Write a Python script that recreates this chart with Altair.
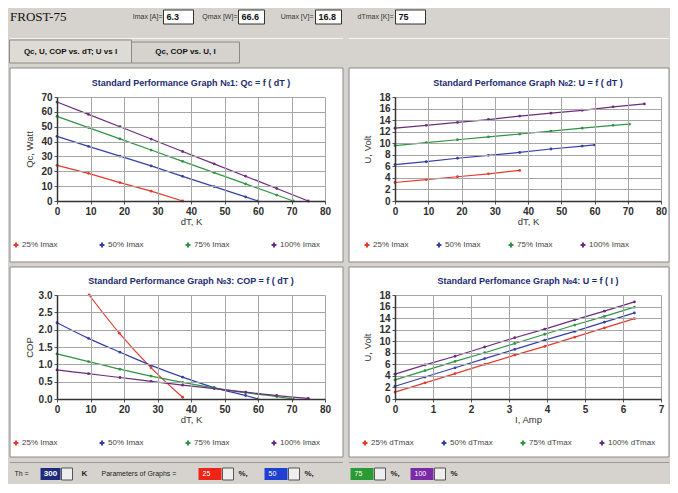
import altair as alt
import pandas as pd

# ---------------- data ----------------
series_imax = ["25% Imax", "50% Imax", "75% Imax", "100% Imax"]
series_dtmax = ["25% dTmax", "50% dTmax", "75% dTmax", "100% dTmax"]
series_colors = ["#e53a2c", "#3441a8", "#2f9444", "#6b2d7d"]

x_ticks_dT = [0, 10, 20, 30, 40, 50, 60, 70, 80]
x_ticks_I = [0, 1, 2, 3, 4, 5, 6, 7]
y_ticks_Qc = [0, 10, 20, 30, 40, 50, 60, 70]
y_ticks_U = [0, 2, 4, 6, 8, 10, 12, 14, 16, 18]
y_ticks_COP = [0.0, 0.5, 1.0, 1.5, 2.0, 2.5, 3.0]

dT_25 = [0, 9.4, 18.8, 28.1, 37.5]
dT_50 = [0, 9.4, 18.8, 28.1, 37.5, 46.9, 56.3, 60.0]
dT_75 = [0, 9.4, 18.8, 28.1, 37.5, 46.9, 56.3, 65.6, 70.5]
dT_100 = [0, 9.4, 18.8, 28.1, 37.5, 46.9, 56.3, 65.6, 75.0]

Qc_25 = [24.0, 18.6, 12.4, 6.6, 0.0]
Qc_50 = [43.5, 36.8, 30.2, 23.6, 16.6, 9.7, 2.8, 0.0]
Qc_75 = [57.0, 49.4, 41.8, 34.3, 26.7, 19.1, 11.5, 4.0, 0.0]
Qc_100 = [66.6, 58.3, 50.0, 41.7, 33.3, 25.0, 16.7, 8.4, 0.0]

U_25 = [3.2, 3.7, 4.2, 4.7, 5.3]
U_50 = [6.3, 6.8, 7.4, 7.9, 8.4, 9.0, 9.5, 9.7]
U_75 = [9.6, 10.1, 10.6, 11.1, 11.6, 12.1, 12.6, 13.1, 13.3]
U_100 = [12.6, 13.1, 13.6, 14.1, 14.7, 15.2, 15.7, 16.3, 16.8]

dT_cop_25 = [9.6, 18.6, 28.1, 37.5]
COP_25 = [3.0, 1.9, 0.9, 0.05]
COP_50 = [2.2, 1.75, 1.35, 0.97, 0.63, 0.33, 0.10, 0.0]
COP_75 = [1.3, 1.08, 0.86, 0.66, 0.48, 0.32, 0.18, 0.07, 0.0]
COP_100 = [0.84, 0.73, 0.62, 0.51, 0.40, 0.30, 0.20, 0.10, 0.02]

I_amp = [0, 0.79, 1.58, 2.36, 3.15, 3.94, 4.73, 5.51, 6.3]
UI_25 = [1.2, 2.8, 4.4, 6.0, 7.6, 9.1, 10.7, 12.3, 13.9]
UI_50 = [2.2, 3.8, 5.4, 7.0, 8.6, 10.2, 11.7, 13.3, 14.9]
UI_75 = [3.3, 4.9, 6.5, 8.0, 9.6, 11.2, 12.8, 14.3, 15.9]
UI_100 = [4.3, 5.9, 7.4, 9.0, 10.6, 12.1, 13.7, 15.2, 16.8]

panel_titles = [
    "Standard Performance Graph \u21161: Qc = f ( dT )",
    "Standard Perfomance Graph \u21162: U = f ( dT )",
    "Standard Performance Graph \u21163: COP = f ( dT )",
    "Standard Perfomance Graph \u21164: U = f ( I )",
]
app_title = "FROST-75"
header_labels = ["Imax [A]=", "Qmax [W]=", "Umax [V]=", "dTmax [K]="]
header_values = ["6.3", "66.6", "16.8", "75"]
tab_labels = ["Qc, U, COP vs. dT; U vs I", "Qc,  COP  vs.  U,  I"]
footer_th = ["Th =", "300", "K", "Parameters of Graphs ="]
footer_values = ["25", "50", "75", "100"]
footer_colors = ["#ee2418", "#1e3fcf", "#2a9a34", "#7b2aa6"]

# ---------------- styling / layout constants ----------------
GREY = "#d6d3ce"
FONT = "Liberation Sans"
ONE = pd.DataFrame({"k": [0]})

# panel geometry: plot width, height, white margins left/right/top/bottom
W_L, W_R, H = 268, 266, 104
L_L, R_L, L_R, R_R = 47, 18, 46, 8
T1, B1, T2, B2 = 29, 61, 28, 58
COLSP, ROWSP = 4, 3
X0 = L_L + 0.5                                   # column-0 plot origin
X1 = (L_L + W_L + R_L + 1) + COLSP + L_R + 0.5   # column-1 plot origin


def long_df(xs_list, ys_list, names):
    rows = []
    for xs, ys, n in zip(xs_list, ys_list, names):
        for a, b in zip(xs, ys):
            rows.append({"x": a, "y": b, "s": n})
    return pd.DataFrame(rows)


def rect(x1, x2, y1, y2, **kw):
    return alt.Chart(ONE).mark_rect(**kw).encode(
        x=alt.value(x1), x2=alt.value(x2), y=alt.value(y1), y2=alt.value(y2)
    )


def text(s, x, y, size=8, weight="normal", color="#222", align="left", font=FONT):
    return alt.Chart(pd.DataFrame({"t": [s]})).mark_text(
        align=align, baseline="middle", fontSize=size, fontWeight=weight,
        color=color, font=font
    ).encode(x=alt.value(x), y=alt.value(y), text="t:N")


AX = dict(zindex=1, grid=True, gridColor="#a6a6a6", gridWidth=1,
          domainColor="#333", domainWidth=1.5, tickColor="#555", tickSize=3,
          labelFont=FONT, labelFontSize=10, labelFontWeight="bold", labelColor="#2e2e2e",
          labelOverlap=False,
          titleFont=FONT, titleFontSize=9.5, titleFontWeight="normal", titleColor="#333")


def panel(df, names, title, xtitle, ytitle, x_ticks, y_ticks, xmax, ymax, yfmt,
          w, h, L, R, T, B, legend_x, col_pad, interp="linear"):
    bands = [
        rect(-L, w + R, -T, 0, fill="white"),
        rect(-L, w + R, h, h + B, fill="white"),
        rect(-L, 0, -1, h + 1, fill="white"),
        rect(w, w + R, -1, h + 1, fill="white"),
        rect(-L, w + R, -T, h + B, fillOpacity=0, stroke="#8a8a8a", strokeWidth=1),
    ]
    ttl = text(title, w / 2, -14, size=9, weight="bold", color="#1c2a70", align="center")
    xenc = alt.X("x:Q", scale=alt.Scale(domain=[0, xmax], nice=False, zero=False),
                 axis=alt.Axis(values=x_ticks, title=xtitle, labelFlush=False,
                               labelPadding=2, titlePadding=0, **AX))
    yenc = alt.Y("y:Q", scale=alt.Scale(domain=[0, ymax], nice=False, zero=False),
                 axis=alt.Axis(values=y_ticks, title=ytitle, format=yfmt,
                               labelPadding=2, titlePadding=5,
                               minExtent=18, maxExtent=18, **AX))
    cscale = alt.Scale(domain=names, range=series_colors)
    leg = alt.Legend(orient="none", legendX=legend_x, legendY=h + 40,
                     direction="horizontal", columns=4, columnPadding=col_pad,
                     title=None, symbolType="cross", symbolSize=24,
                     symbolStrokeWidth=0, labelFontSize=8, labelColor="#444",
                     labelOffset=2, gridAlign="all")
    color = alt.Color("s:N", sort=names, scale=cscale, legend=leg)
    lines = alt.Chart(df).mark_line(strokeWidth=1.2, interpolate=interp).encode(
        x=xenc, y=yenc, color=color)
    pts = alt.Chart(df).mark_circle(size=8, opacity=1).encode(
        x=xenc, y=yenc, color=color)
    return alt.layer(*bands, ttl, lines, pts).properties(width=w, height=h)


df_qc = long_df([dT_25, dT_50, dT_75, dT_100], [Qc_25, Qc_50, Qc_75, Qc_100], series_imax)
df_u = long_df([dT_25, dT_50, dT_75, dT_100], [U_25, U_50, U_75, U_100], series_imax)
df_cop = long_df([dT_cop_25, dT_50, dT_75, dT_100], [COP_25, COP_50, COP_75, COP_100], series_imax)
df_ui = long_df([I_amp] * 4, [UI_25, UI_50, UI_75, UI_100], series_dtmax)

tl = panel(df_qc, series_imax, panel_titles[0], "dT, K", "Qc, Watt", x_ticks_dT, y_ticks_Qc,
           80, 70, "d", W_L, H, L_L, R_L, T1, B1, -45, 35)
tr = panel(df_u, series_imax, panel_titles[1], "dT, K", "U, Volt", x_ticks_dT, y_ticks_U,
           80, 18, "d", W_R, H, L_R, R_R, T1, B1, -32, 21)
bl = panel(df_cop, series_imax, panel_titles[2], "dT, K", "COP", x_ticks_dT, y_ticks_COP,
           80, 3.0, ".1f", W_L, H, L_L, R_L, T2, B2, -45, 35, interp="monotone")
br = panel(df_ui, series_dtmax, panel_titles[3], "I, Amp", "U, Volt", x_ticks_I, y_ticks_U,
           7, 18, "d", W_R, H, L_R, R_R, T2, B2, -34, 21)

# ---------------- header (window chrome), split over the two columns ----------------
# positions below are absolute chart pixels, converted to each column's local frame
hL = [rect(-L_L, W_L + R_L, 29, 30, fill="#f4f4f4"),
      text(app_title, -L_L, 8, size=13, color="#111", font="Liberation Serif")]
hR = [rect(-L_R, W_R + R_R, 29, 30, fill="#f4f4f4")]
lab_right = [153, 228, 304, 383]
box_x = [(154, 184), (229, 255), (306, 332), (385, 415)]
for i, (lab, val) in enumerate(zip(header_labels, header_values)):
    tgt, off = (hL, X0) if i < 3 else (hR, X1)
    tgt.append(text(lab, lab_right[i] - off, 8, size=7, color="#333", align="right"))
    tgt.append(rect(box_x[i][0] - off, box_x[i][1] - off, 1, 15, fill="white",
                    stroke="#333", strokeWidth=1))
    tgt.append(text(val, box_x[i][0] + 3 - off, 8, size=9, weight="bold", color="#111"))
tab_x = [(0, 122), (122, 230)]
tab_y = [31, 33]
for i, lab in enumerate(tab_labels):
    hL.append(rect(tab_x[i][0] - X0, tab_x[i][1] - X0, tab_y[i], 54,
                   fill="#dedbd5" if i == 0 else GREY, stroke="#8a8a8a", strokeWidth=1))
    hL.append(text(lab, (tab_x[i][0] + tab_x[i][1]) / 2 - X0, 43, size=8, weight="bold",
                   color="#111", align="center"))
VB = alt.ViewBackground(fill=GREY, stroke="transparent")
head_l = alt.layer(*hL).properties(width=W_L, height=54, view=VB)
head_r = alt.layer(*hR).properties(width=W_R, height=54, view=VB)

# ---------------- footer (window chrome), split over the two columns ----------------
fy = 12
fL = [
    rect(-L_L, W_L + R_L, 0, 1, fill="#9a9a9a"),
    text(footer_th[0], 5 - X0, fy, size=7, color="#222"),
    rect(31 - X0, 51 - X0, 6, 18, fill="#1d2b7a"),
    text(footer_th[1], 41 - X0, fy, size=8, weight="bold", color="white", align="center"),
    rect(52 - X0, 63 - X0, 6, 18, fill="#eeeeee", stroke="#555", strokeWidth=1),
    text(footer_th[2], 72 - X0, fy, size=8, weight="bold", color="#222"),
    text(footer_th[3], 92 - X0, fy, size=7, color="#222"),
]
fR = [rect(-L_R, W_R + R_R, 0, 1, fill="#9a9a9a")]
fbox = [189, 255, 340, 400]
for i, (val, col) in enumerate(zip(footer_values, footer_colors)):
    tgt, off = (fL, X0) if i < 2 else (fR, X1)
    x0 = fbox[i] - off
    tgt.append(rect(x0, x0 + 23, 6, 18, fill=col))
    tgt.append(text(val, x0 + 4, fy, size=7, color="white"))
    tgt.append(rect(x0 + 24, x0 + 35, 6, 18, fill="#eeeeee", stroke="#555", strokeWidth=1))
    tgt.append(text("%," if i < 3 else "%", x0 + 40, fy, size=8, weight="bold", color="#222"))
foot_l = alt.layer(*fL).properties(width=W_L, height=21, view=VB)
foot_r = alt.layer(*fR).properties(width=W_R, height=21, view=VB)

chart = alt.concat(
    head_l, head_r, tl, tr, bl, br, foot_l, foot_r,
    columns=2, spacing={"row": ROWSP, "column": COLSP},
).resolve_scale(
    color="independent", x="independent", y="independent"
).resolve_legend(
    color="independent"
).properties(
    padding=0, background=GREY
).configure(
    font=FONT
).configure_view(
    fill="white", stroke="transparent"
)

chart.save("out.html", embed_options={"renderer": "svg", "actions": False})
